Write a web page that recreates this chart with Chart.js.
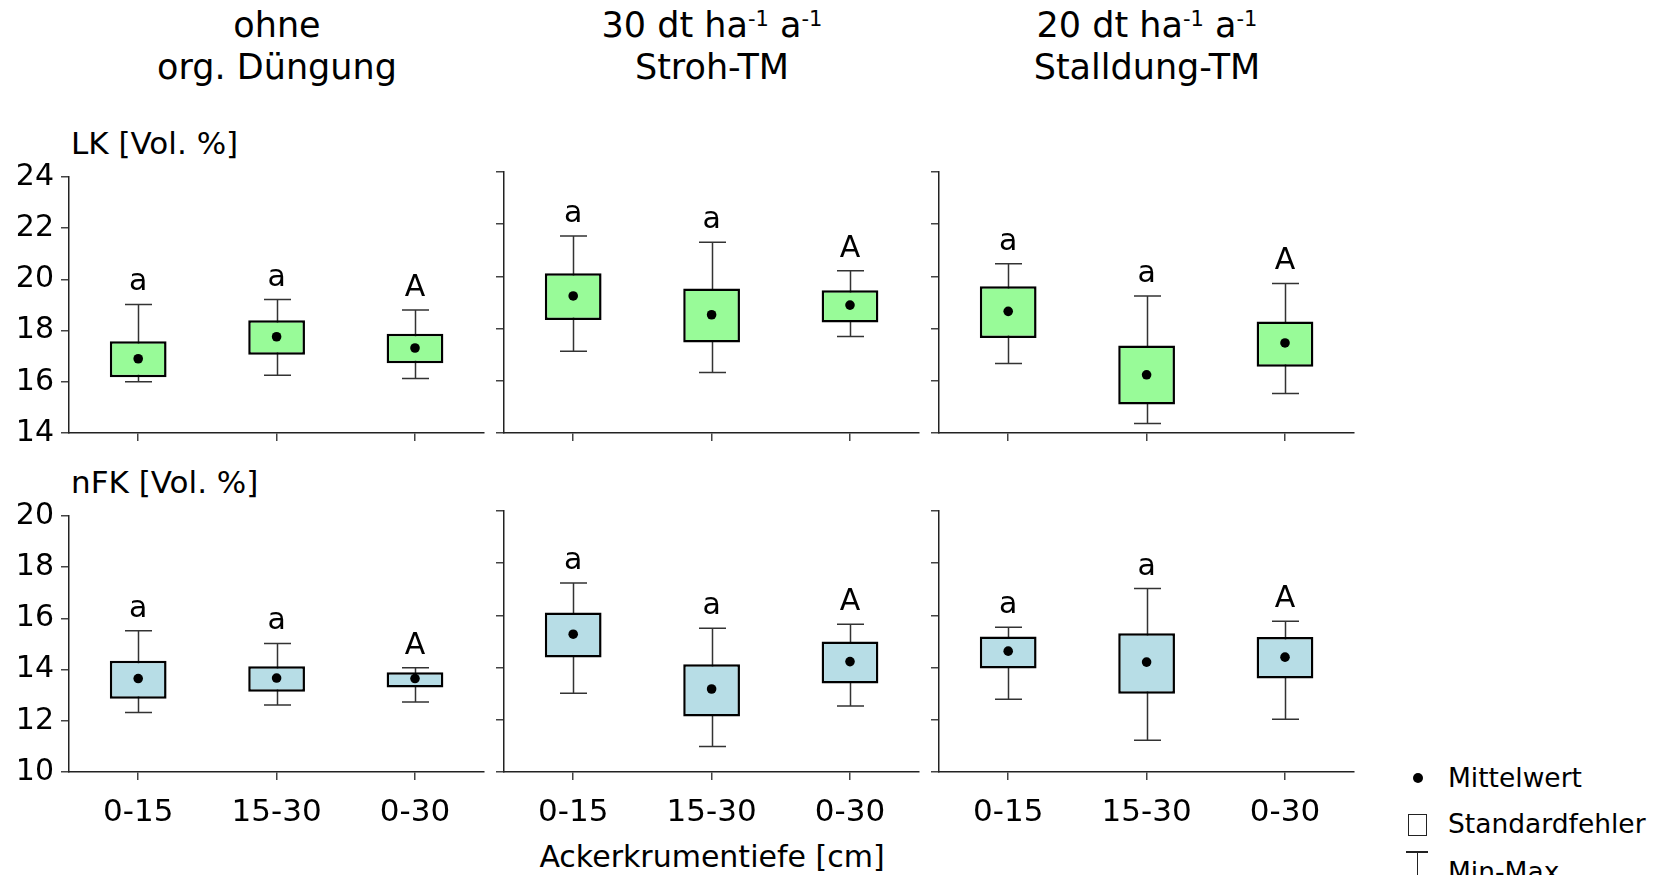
<!DOCTYPE html>
<html lang="de">
<head>
<meta charset="utf-8">
<title>LK und nFK nach Ackerkrumentiefe</title>
<script src="https://cdn.jsdelivr.net/npm/chart.js@4.4.1/dist/chart.umd.min.js"></script>
<style>
  html, body { margin: 0; padding: 0; background: #fff; overflow: hidden; }
  body { width: 1662px; height: 875px; position: relative; font-family: "DejaVu Sans", Verdana, sans-serif; color: #000; }
  canvas { position: absolute; }
  .txt { position: absolute; white-space: nowrap; }
  .title { width: 416px; text-align: center; font-size: 35px; line-height: 42px; top: 4px; }
  .title sup { font-size: 21px; vertical-align: baseline; position: relative; top: -11px; line-height: 0; }
  .axis-label { font-size: 30px; line-height: 30px; }
  .row-label { font-size: 31px; line-height: 30px; }
  .legend { font-size: 26.5px; line-height: 26px; left: 1448px; }
  .mark { position: absolute; }
</style>
</head>
<body>
<script>
// Kategorien und Beschriftungen
const categories = ["0-15", "15-30", "0-30"];
const treatmentTitles = [
  ["ohne", "org. Düngung"],
  ["30 dt ha<sup>-1</sup> a<sup>-1</sup>", "Stroh-TM"],
  ["20 dt ha<sup>-1</sup> a<sup>-1</sup>", "Stalldung-TM"]
];
const rowLabels = ["LK [Vol. %]", "nFK [Vol. %]"];
const xTitle = "Ackerkrumentiefe [cm]";
const letters = ["a", "a", "A"];
const yMin = [14, 10];
const yMax = [24, 20];
const yStep = 2;

// LK, je Variante (ohne / Stroh / Stalldung) drei Tiefen
const lkMean = [[16.90, 17.76, 17.32], [19.25, 18.53, 18.90], [18.66, 16.23, 17.45]];
const lkSeLow = [[16.18, 17.06, 16.72], [18.33, 17.47, 18.23], [17.64, 15.09, 16.54]];
const lkSeHigh = [[17.58, 18.40, 17.88], [20.12, 19.54, 19.47], [19.62, 17.35, 18.27]];
const lkMin = [[16.00, 16.26, 16.13], [17.13, 16.32, 17.70], [16.66, 14.36, 15.51]];
const lkMax = [[19.02, 19.21, 18.80], [21.55, 21.31, 20.22], [20.48, 19.25, 19.73]];

// nFK
const nfkMean = [[13.65, 13.67, 13.65], [15.28, 13.18, 14.23], [14.63, 14.21, 14.40]];
const nfkSeLow = [[12.86, 13.13, 13.30], [14.39, 12.13, 13.39], [13.97, 13.00, 13.58]];
const nfkSeHigh = [[14.35, 14.13, 13.90], [16.11, 14.13, 15.00], [15.19, 15.32, 15.17]];
const nfkMin = [[12.32, 12.62, 12.73], [13.02, 10.98, 12.53], [12.79, 11.22, 12.02]];
const nfkMax = [[15.52, 15.02, 14.07], [17.24, 15.51, 15.66], [15.55, 17.03, 15.78]];

const rowFill = ["#98fb98", "#b7dde6"];
const rowStats = [
  { mean: lkMean, seLow: lkSeLow, seHigh: lkSeHigh, min: lkMin, max: lkMax },
  { mean: nfkMean, seLow: nfkSeLow, seHigh: nfkSeHigh, min: nfkMin, max: nfkMax }
];

const panelLeft = [69, 504, 939];
const plotWidth = 416;
const plotTop = [172, 511];
const plotHeight = 261;
const padTop = 20;
const xAxisHeight = [30, 60];

Chart.defaults.font.family = '"DejaVu Sans", Verdana, sans-serif';
Chart.defaults.color = "#000";

function addText(html, cls, style) {
  const el = document.createElement("div");
  el.className = "txt " + cls;
  el.innerHTML = html;
  Object.assign(el.style, style);
  document.body.appendChild(el);
  return el;
}

function addMark(style) {
  const el = document.createElement("div");
  el.className = "mark";
  Object.assign(el.style, style);
  document.body.appendChild(el);
}

function whiskerPlugin(min, max, marks) {
  return {
    id: "whiskers",
    beforeDatasetsDraw(chart) {
      const { ctx, scales: { x, y } } = chart;
      ctx.save();
      ctx.strokeStyle = "#333";
      ctx.lineWidth = 1.5;
      min.forEach((lo, i) => {
        const px = Math.round(x.getPixelForValue(i)) + 0.5;
        const yLo = y.getPixelForValue(lo);
        const yHi = y.getPixelForValue(max[i]);
        ctx.beginPath();
        ctx.moveTo(px, yLo);
        ctx.lineTo(px, yHi);
        ctx.moveTo(px - 13.5, yLo);
        ctx.lineTo(px + 13.5, yLo);
        ctx.moveTo(px - 13.5, yHi);
        ctx.lineTo(px + 13.5, yHi);
        ctx.stroke();
      });
      ctx.restore();
    },
    afterDatasetsDraw(chart) {
      const { ctx, scales: { x, y } } = chart;
      ctx.save();
      ctx.fillStyle = "#000";
      ctx.font = '30px "DejaVu Sans", Verdana, sans-serif';
      ctx.textAlign = "center";
      ctx.textBaseline = "alphabetic";
      marks.forEach((m, i) => ctx.fillText(m, x.getPixelForValue(i), y.getPixelForValue(max[i]) - 14));
      ctx.restore();
    }
  };
}

function createPanel(row, col) {
  const stats = rowStats[row];
  const yw = col === 0 ? 69 : 12;
  const canvas = document.createElement("canvas");
  canvas.width = yw + plotWidth + 4;
  canvas.height = padTop + plotHeight + xAxisHeight[row];
  canvas.style.left = (panelLeft[col] - yw) + "px";
  canvas.style.top = (plotTop[row] - padTop) + "px";
  document.body.appendChild(canvas);

  new Chart(canvas, {
    type: "bar",
    data: {
      labels: categories,
      datasets: [
        {
          type: "line",
          data: stats.mean[col],
          showLine: false,
          pointRadius: 4.8,
          pointBackgroundColor: "#000",
          pointBorderWidth: 0,
          order: 0
        },
        {
          type: "bar",
          data: stats.seLow[col].map((lo, i) => [lo, stats.seHigh[col][i]]),
          backgroundColor: rowFill[row],
          borderColor: "#000",
          borderWidth: 2.5,
          borderSkipped: false,
          barPercentage: 0.41,
          categoryPercentage: 1,
          order: 1
        }
      ]
    },
    options: {
      responsive: false,
      devicePixelRatio: 1,
      animation: false,
      events: [],
      layout: { padding: { top: padTop, right: 4, left: 0, bottom: 0 } },
      plugins: { legend: { display: false }, tooltip: { enabled: false } },
      scales: {
        x: {
          type: "category",
          offset: true,
          ticks: { display: row === 1, padding: 14, font: { size: 31 }, color: "#000", maxRotation: 0, autoSkip: false },
          grid: { offset: false, drawOnChartArea: false, tickLength: 8, color: "#444", lineWidth: 1.5 },
          border: { display: true, color: "#222", width: 1.5 },
          afterFit: (s) => { s.height = xAxisHeight[row]; }
        },
        y: {
          min: yMin[row],
          max: yMax[row],
          ticks: { stepSize: yStep, display: col === 0, padding: 7, font: { size: 30 }, color: "#000" },
          grid: { drawOnChartArea: false, drawTicks: true, tickLength: 8, color: "#444", lineWidth: 1.5 },
          border: { display: true, color: "#222", width: 1.5 },
          afterFit: (s) => { s.width = yw; }
        }
      }
    },
    plugins: [whiskerPlugin(stats.min[col], stats.max[col], letters)]
  });
}

document.addEventListener("DOMContentLoaded", () => {
  treatmentTitles.forEach((lines, col) => {
    addText(lines.join("<br>"), "title", { left: panelLeft[col] + "px" });
  });
  addText(rowLabels[0], "row-label", { left: "71px", top: "128px" });
  addText(rowLabels[1], "row-label", { left: "71px", top: "467px" });
  addText(xTitle, "axis-label", { left: panelLeft[1] + "px", width: plotWidth + "px", textAlign: "center", top: "842px" });

  [0, 1].forEach((row) => [0, 1, 2].forEach((col) => createPanel(row, col)));

  // Legende
  addMark({ left: "1413px", top: "773px", width: "10px", height: "10px", borderRadius: "50%", background: "#000" });
  addMark({ left: "1408px", top: "814px", width: "17px", height: "20px", border: "1.5px solid #222" });
  addMark({ left: "1406px", top: "851px", width: "22px", height: "1.5px", background: "#222" });
  addMark({ left: "1416.5px", top: "851px", width: "1.5px", height: "30px", background: "#222" });
  addText("Mittelwert", "legend", { top: "765px" });
  addText("Standardfehler", "legend", { top: "811px" });
  addText("Min-Max", "legend", { top: "859px" });
});
</script>
</body>
</html>
